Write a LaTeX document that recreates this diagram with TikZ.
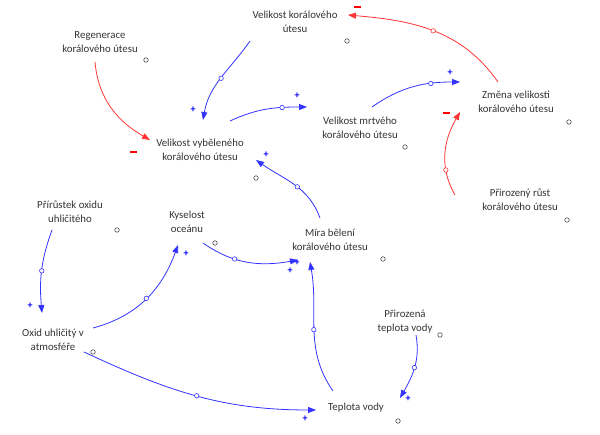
\documentclass[tikz,border=0pt]{standalone}
\usepackage{fontspec}
\setmainfont{Carlito}
\usetikzlibrary{calc,arrows.meta}
\begin{document}
\begin{tikzpicture}[x=1pt,y=1pt,
  var/.style={align=center,font=\fontsize{10.8}{14}\selectfont,text=black!80},
  plink/.style={blue!80,draw=blue!80,line width=0.8pt,-{Triangle[length=8pt,width=6pt]}},
  nlink/.style={red!80,draw=red!80,line width=0.8pt,-{Triangle[length=8pt,width=6pt]}},
  mid/.style={circle,draw,fill=white,inner sep=0pt,minimum size=4.5pt,line width=0.6pt},
  mk/.style={circle,draw=black!70,inner sep=0pt,minimum size=4.5pt,line width=0.6pt},
  sgp/.style={text=blue,font=\fontsize{10}{10}\selectfont\bfseries},
  sgn/.style={fill=red,inner sep=0pt,minimum width=7pt,minimum height=1.3pt}]
\useasboundingbox (0,0) rectangle (600,435);
\node[var] (VK) at (295,413) {Velikost korálového\\útesu};
\node[var] (REG) at (100,393) {Regenerace\\korálového útesu};
\node[var] (ZM) at (516,333) {Změna velikosti\\korálového útesu};
\node[var] (MRT) at (360,307) {Velikost mrtvého\\korálového útesu};
\node[var] (VYB) at (200,285) {Velikost vyběleného\\korálového útesu};
\node[var] (PRI) at (70,223) {Přírůstek oxidu\\uhličitého};
\node[var] (KYS) at (187,213) {Kyselost\\oceánu};
\node[var] (MIRA) at (330,195) {Míra bělení\\korálového útesu};
\node[var] (PRR) at (520,235) {Přirozený růst\\korálového útesu};
\node[var] (OXI) at (53,95) {Oxid uhličitý v\\atmosféře};
\node[var] (PTV) at (405,113) {Přirozená\\teplota vody};
\node[var] (TV) at (356,27) {Teplota vody};
% markers
\foreach \p in {(347,394),(146,375),(569,313),(405,288),(256,257),(117,205),(215,192),(383,176),(567,215),(93,83),(440,100),(398,14)}
  \node[mk] at \p {};
% links
\draw[nlink] ($(ZM)+(-18,20)$) to[out=125,in=-5] node[mid]{} ($(VK)+(53,7)$);
\draw[plink] ($(VK)+(-45,-19)$) to[out=235,in=80] node[mid]{} ($(VYB)+(3,30)$);
\draw[plink] ($(VYB)+(30,29)$) to[out=25,in=180] node[mid,pos=.7]{} ($(MRT)+(-53,21)$);
\draw[plink] ($(MRT)+(12,21)$) to[out=35,in=180] node[mid,pos=.7]{} ($(ZM)+(-56,20)$);
\draw[nlink] ($(PRR)+(-65,5)$) to[out=120,in=240] node[mid,pos=.3]{} ($(ZM)+(-56,-10)$);
\draw[nlink] ($(REG)+(-5,-20)$) to[out=-85,in=150] ($(VYB)+(-50,10)$);
\draw[plink] ($(MIRA)+(-10,22)$) to[out=110,in=-35] node[mid,pos=.45]{} ($(VYB)+(56,-10)$);
\draw[plink] ($(PRI)+(-18,-18)$) to[out=-110,in=95] node[mid]{} ($(OXI)+(-11,27)$);
\draw[plink] ($(OXI)+(40,12)$) to[out=15,in=-110] node[mid]{} ($(KYS)+(-9,-23)$);
\draw[plink] ($(KYS)+(16,-21)$) to[out=-35,in=190] node[mid,pos=.35]{} ($(MIRA)+(-32,-20)$);
\draw[plink] ($(TV)+(-23,17)$) to[out=125,in=-80] node[mid]{} ($(MIRA)+(-20,-22)$);
\draw[plink] ($(OXI)+(31,-12)$) to[out=-25,in=180] node[mid]{} ($(TV)+(-40,-2)$);
\draw[plink] ($(PTV)+(11,-13)$) to[out=-80,in=60] node[mid]{} ($(TV)+(44,10)$);
% signs
\node[sgn] at (357,428) {};
\node[sgn] at (446,322) {};
\node[sgn] at (133,283) {};
\foreach \p in {(193,325),(297,339),(450,362),(266,280),(30,129),(186,181),(290,164),(297,172),(305,16),(408,36)}
  \node[sgp] at \p {+};
\end{tikzpicture}
\end{document}
